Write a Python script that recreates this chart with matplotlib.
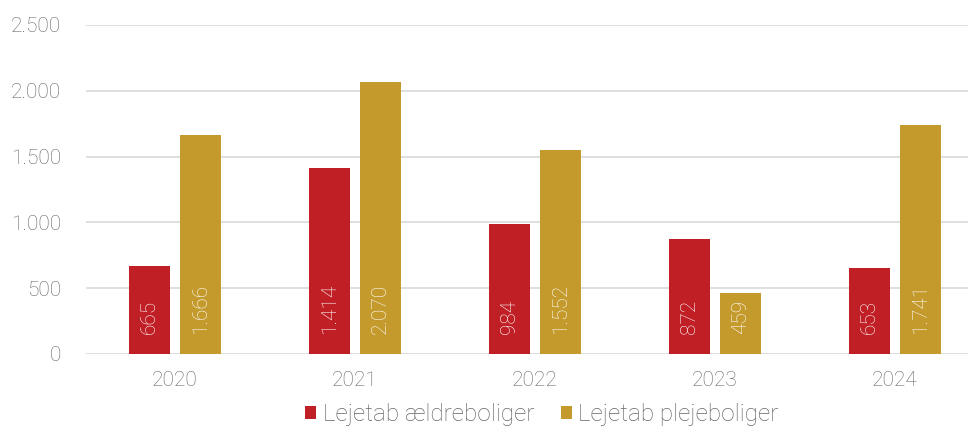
import numpy as np
import matplotlib
matplotlib.use('Agg')
import matplotlib.pyplot as plt

years = ['2020', '2021', '2022', '2023', '2024']
aeldre = [665, 1414, 984, 872, 653]
pleje = [1666, 2070, 1552, 459, 1741]
labels_aeldre = ['665', '1.414', '984', '872', '653']
labels_pleje = ['1.666', '2.070', '1.552', '459', '1.741']
yticks = [0, 500, 1000, 1500, 2000, 2500]
ytick_labels = ['0', '500', '1.000', '1.500', '2.000', '2.500']

red = '#C01F26'
gold = '#C49A2C'
grey = '#666666'

plt.rcParams['font.family'] = ['Roboto', 'DejaVu Sans']
plt.rcParams['font.weight'] = 'light'

fig = plt.figure(figsize=(9.71, 4.30), dpi=100)
ax = fig.add_axes([0.0886, 0.177, 0.908, 0.765])

x = np.arange(len(years))
w = 0.228
gap = 0.056
b1 = ax.bar(x - (w + gap) / 2, aeldre, w, color=red, label='Lejetab ældreboliger', zorder=3)
b2 = ax.bar(x + (w + gap) / 2, pleje, w, color=gold, label='Lejetab plejeboliger', zorder=3)

for bars, labs in ((b1, labels_aeldre), (b2, labels_pleje)):
    for bar, lab in zip(bars, labs):
        ax.annotate(lab, (bar.get_x() + bar.get_width() / 2, 0),
                    xytext=(0, 14), textcoords='offset points', rotation=90,
                    ha='center', va='bottom', color='white', fontsize=15,
                    fontweight='light', zorder=4)

ax.set_xlim(-0.494, 4.406)
ax.set_ylim(0, 2500)
ax.set_yticks(yticks)
ax.set_yticklabels(ytick_labels)
ax.set_xticks(x)
ax.set_xticklabels(years)
ax.yaxis.grid(True, color='#d9d9d9', linewidth=1.2, zorder=0)
ax.tick_params(axis='both', length=0, labelsize=15, labelcolor=grey)
ax.tick_params(axis='x', pad=12)
ax.tick_params(axis='y', pad=18)
for s in ax.spines.values():
    s.set_visible(False)

fig.legend(loc='center', bbox_to_anchor=(0.558, 0.035), ncol=2, frameon=False,
           fontsize=17.5, handlelength=0.45, handleheight=0.45, handletextpad=0.25,
           columnspacing=1.1, labelcolor=grey)

fig.savefig('out.png', dpi=100)
